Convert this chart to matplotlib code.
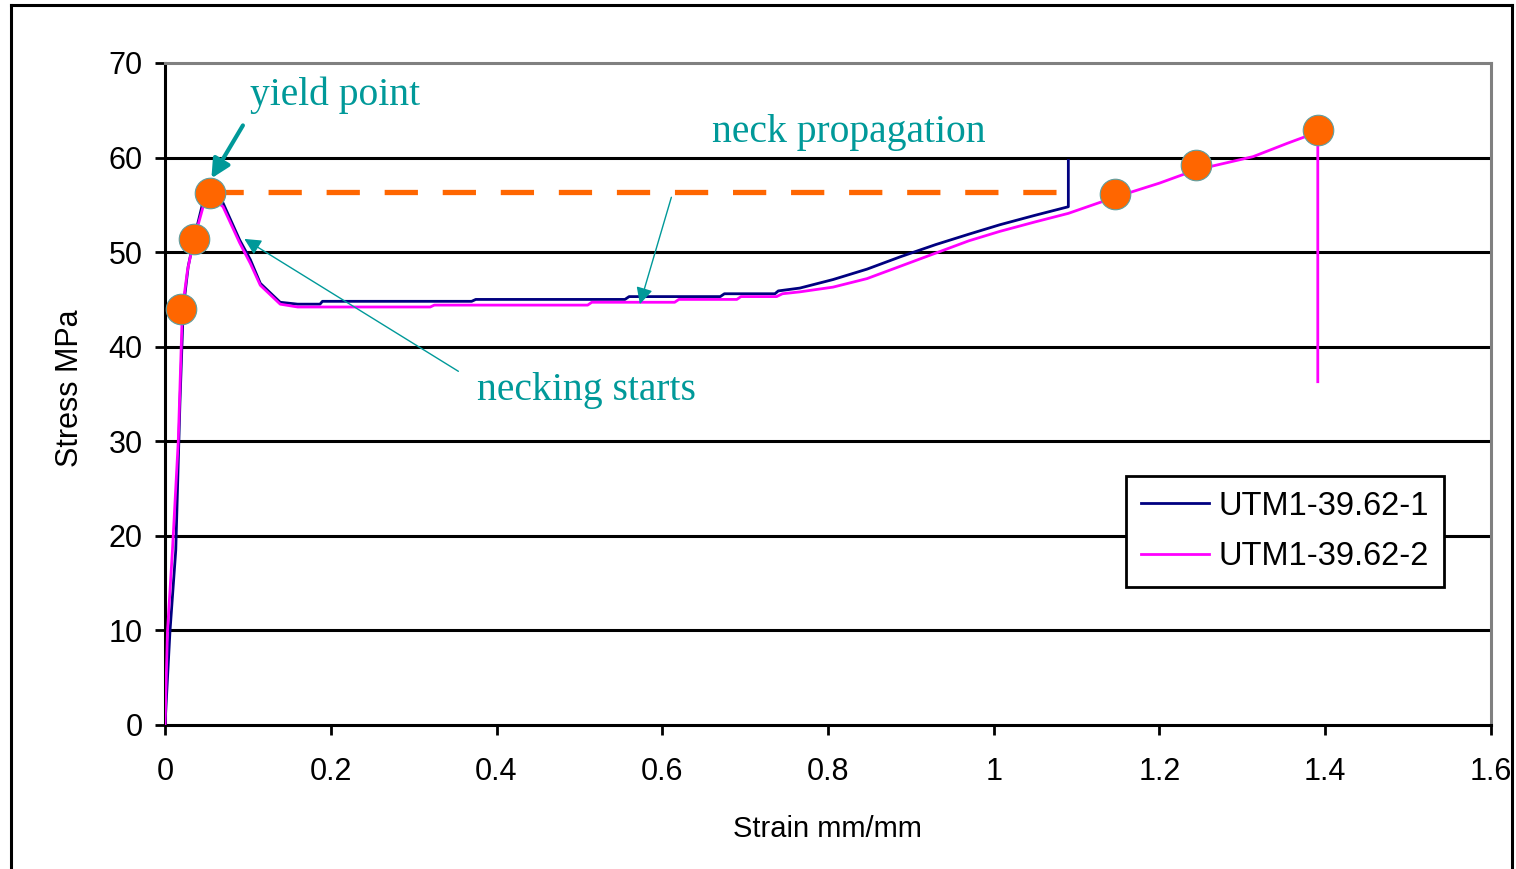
import matplotlib.pyplot as plt
from matplotlib.lines import Line2D

plt.rcParams['font.family'] = ['Liberation Sans', 'DejaVu Sans']

# specimen 1 (navy)
strain1 = [0, 0.006, 0.013, 0.018, 0.022, 0.028, 0.035, 0.045, 0.058, 0.07, 0.09, 0.103,
           0.115, 0.139, 0.16, 0.187, 0.19, 0.37, 0.375, 0.555, 0.56, 0.67, 0.675,
           0.736, 0.74, 0.766, 0.806, 0.847, 0.887, 0.93, 0.97, 1.0075, 1.05, 1.09, 1.09]
stress1 = [0, 9.9, 18.5, 34.0, 44.0, 48.5, 51.4, 55.0, 56.3, 55.2, 51.3, 49.2,
           46.7, 44.7, 44.5, 44.5, 44.8, 44.8, 45.0, 45.0, 45.3, 45.3, 45.6,
           45.6, 45.9, 46.2, 47.1, 48.2, 49.5, 50.8, 51.9, 52.9, 53.9, 54.8, 59.7]

# specimen 2 (magenta)
strain2 = [0, 0.003, 0.009, 0.016, 0.021, 0.027, 0.034, 0.046, 0.056, 0.07, 0.09, 0.103,
           0.115, 0.139, 0.16, 0.32, 0.325, 0.51, 0.515, 0.615, 0.62, 0.69, 0.695,
           0.738, 0.745, 0.766, 0.806, 0.847, 0.887, 0.93, 0.97, 1.0075, 1.05, 1.09,
           1.146, 1.2, 1.244, 1.313, 1.354, 1.391, 1.391]
stress2 = [0, 9.9, 18.5, 30.0, 44.0, 48.0, 51.0, 54.8, 55.8, 54.8, 51.0, 48.8,
           46.5, 44.5, 44.2, 44.2, 44.4, 44.4, 44.7, 44.7, 45.0, 45.0, 45.3,
           45.3, 45.6, 45.8, 46.3, 47.2, 48.5, 49.9, 51.2, 52.2, 53.2, 54.1,
           55.8, 57.3, 58.7, 60.1, 61.5, 62.7, 36.3]

# highlighted points
pt_strain = [0.019, 0.035, 0.054, 1.146, 1.244, 1.391]
pt_stress = [44.0, 51.4, 56.3, 56.1, 59.2, 62.9]

# yield stress level line
yield_strain = [0.054, 1.10]
yield_stress = [56.4, 56.4]

teal = '#009999'
orange = '#FF6600'

fig = plt.figure(figsize=(15.16, 8.69), dpi=100)
ax = fig.add_axes([165/1516, 1-725/869, 1326/1516, 662/869])

for y in range(10, 70, 10):
    ax.axhline(y, color='black', lw=2.2, zorder=1)

ax.plot(yield_strain, yield_stress, color=orange, lw=3.8, dashes=(6.3, 4.7), zorder=2)
ax.plot(strain1, stress1, color='#000080', lw=2, label='UTM1-39.62-1', zorder=3)
ax.plot(strain2, stress2, color='#FF00FF', lw=2, label='UTM1-39.62-2', zorder=3)
ax.plot(pt_strain, pt_stress, 'o', color=orange, ms=22, mec='#5f9ea0', mew=0.8,
        zorder=4)

ax.set_xlim(0, 1.6)
ax.set_ylim(0, 70)
ax.set_xticks([0, 0.2, 0.4, 0.6, 0.8, 1.0, 1.2, 1.4, 1.6])
ax.set_xticklabels(['0', '0.2', '0.4', '0.6', '0.8', '1', '1.2', '1.4', '1.6'])
ax.set_yticks(range(0, 80, 10))
ax.tick_params(direction='out', length=7, width=2, labelsize=22, color='black')
ax.tick_params(axis='x', pad=16)
ax.tick_params(axis='y', pad=9)
ax.spines['left'].set_linewidth(2.2)
ax.spines['bottom'].set_linewidth(2.2)
ax.spines['top'].set_color('#808080')
ax.spines['right'].set_color('#808080')
ax.spines['top'].set_linewidth(2.2)
ax.spines['right'].set_linewidth(2.2)

fig.text(70/1516, 1-388/869, 'Stress MPa', rotation=90, ha='center', va='center',
         fontsize=22)
fig.text(827/1516, 1-829/869, 'Strain mm/mm', ha='center', va='center', fontsize=21)

# annotations
serif = dict(family='Liberation Serif', fontsize=28.5, color=teal)
ax.text(0.1026, 65.6, 'yield point', va='baseline', **serif)
ax.text(0.660, 61.6, 'neck propagation', va='baseline', **serif)
ax.text(0.3765, 34.4, 'necking starts', va='baseline', **serif)

ax.annotate('', xy=(0.056, 57.8), xytext=(0.094, 63.4),
            arrowprops=dict(arrowstyle='-|>', lw=3, color=teal, mutation_scale=28,
                            shrinkA=0, shrinkB=0), zorder=5)
ax.annotate('', xy=(0.0957, 51.4), xytext=(0.354, 37.4),
            arrowprops=dict(arrowstyle='-|>', lw=1, color=teal, mutation_scale=25,
                            shrinkA=0, shrinkB=0), zorder=5)
ax.annotate('', xy=(0.573, 44.5), xytext=(0.611, 55.8),
            arrowprops=dict(arrowstyle='-|>', lw=1, color=teal, mutation_scale=25,
                            shrinkA=0, shrinkB=0), zorder=5)

leg = ax.legend(loc='upper left', bbox_to_anchor=(0.7247, 0.376), borderaxespad=0,
                fontsize=23.5, fancybox=False, framealpha=1, edgecolor='black',
                handlelength=2.1, handletextpad=0.3, borderpad=0.45, labelspacing=0.6)
leg.get_frame().set_linewidth(2)
for h in leg.get_lines():
    h.set_linewidth(2)

# outer frame of the picture
x0, x1, yt = 11/1516, 1512/1516, 1-5/869
fig.add_artist(Line2D([x0, x0], [0, yt], color='black', lw=2.2))
fig.add_artist(Line2D([x0, x1], [yt, yt], color='black', lw=2.2))
fig.add_artist(Line2D([x1, x1], [0, yt], color='black', lw=2.2))

fig.savefig('out.png', dpi=100, facecolor='white')
